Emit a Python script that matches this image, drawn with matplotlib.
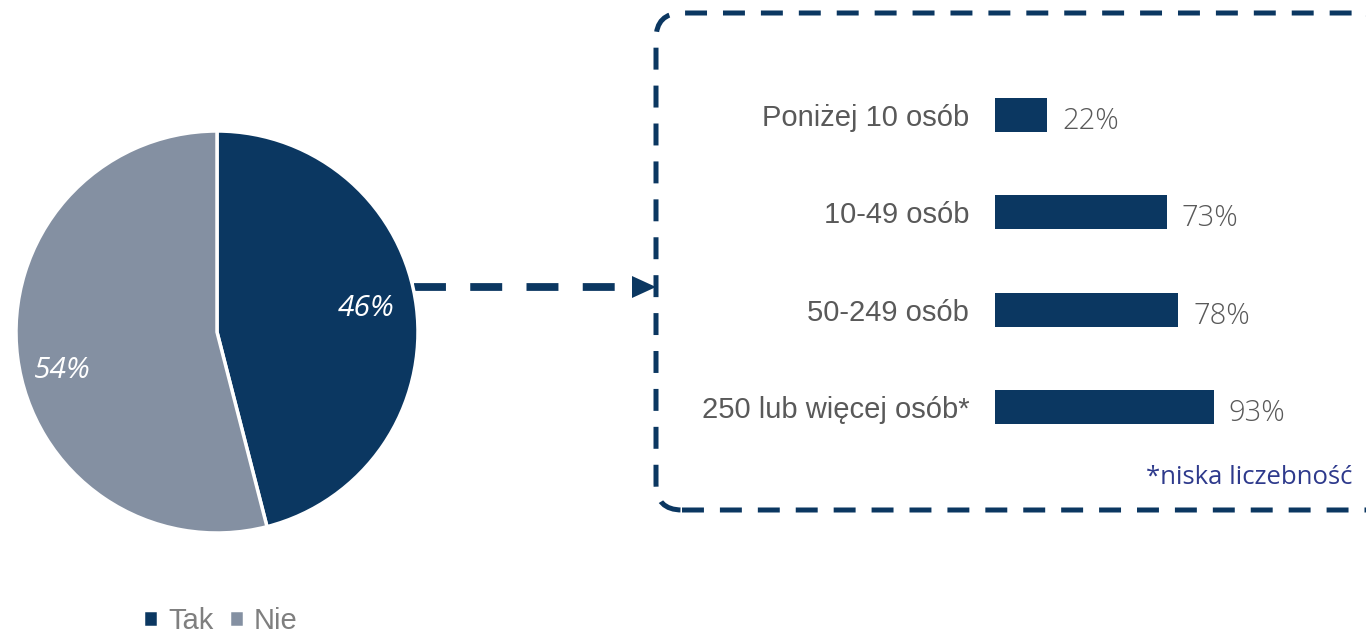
import matplotlib
matplotlib.use("Agg")
import matplotlib.pyplot as plt
from matplotlib.patches import FancyBboxPatch, Polygon

# Share of firms (pie) and breakdown by company size (bars)
pie_labels = ["Tak", "Nie"]
pie_values = [46, 54]

size_groups = ["Poniżej 10 osób", "10-49 osób", "50-249 osób", "250 lub więcej osób*"]
size_values = [22, 73, 78, 93]

footnote = "*niska liczebność"

NAVY = "#0B3761"
GREY = "#8490A2"
TEXT_GREY = "#595959"
LEGEND_GREY = "#7F7F7F"
NOTE_BLUE = "#2E3A8C"

W, H = 1366, 634
plt.rcParams["lines.scale_dashes"] = False

fig = plt.figure(figsize=(W / 100, H / 100), dpi=100)
fig.patch.set_facecolor("white")


def px_axes(left, top, width, height):
    """Axes placed by pixel box (origin top-left)."""
    return fig.add_axes([left / W, 1 - (top + height) / H, width / W, height / H])


# Overlay in pixel coordinates (y up) for the dashed callout and arrow
deco = px_axes(0, 0, W, H)
deco.set_xlim(0, W)
deco.set_ylim(0, H)
deco.axis("off")

box = FancyBboxPatch(
    (656, H - 510), 1391 - 656, 510 - 13,
    boxstyle="round,pad=0,rounding_size=26",
    facecolor="none", edgecolor=NAVY, linewidth=3.6,
    linestyle=(0, (15.8, 11.5)),
)
deco.add_patch(box)

deco.plot([414, 630], [H - 287, H - 287], color=NAVY, linewidth=5.6,
          linestyle=(0, (23.0, 17.5)), solid_capstyle="butt")
deco.add_patch(Polygon([[632, H - 276], [632, H - 298], [656, H - 287]],
                       closed=True, facecolor=NAVY, edgecolor="none"))

# Pie chart
pie_ax = px_axes(16, 131, 402, 402)
wedges, _, autotexts = pie_ax.pie(
    pie_values, colors=[NAVY, GREY], startangle=90, counterclock=False,
    autopct="%.0f%%", pctdistance=0.77,
    wedgeprops=dict(edgecolor="white", linewidth=2.5),
    textprops=dict(color="white", fontsize=21.5, fontstyle="italic",
                   family="Open Sans"),
)
autotexts[0].set_position((0.74, 0.115))
autotexts[1].set_position((-0.77, -0.19))
pie_ax.set_xlim(-1, 1)
pie_ax.set_ylim(-1, 1)
pie_ax.set_aspect("equal")

# Legend under the pie
fig.legend(
    wedges, pie_labels, loc="center left",
    bbox_to_anchor=(117 / W, 1 - 621 / H), ncol=2, frameon=False,
    handlelength=0.5, handleheight=0.5, handletextpad=0.35, columnspacing=0.55,
    prop=dict(family="Liberation Sans", size=21), labelcolor=LEGEND_GREY,
)

# Bar chart by company size
step = 97.3
bar_ax = px_axes(995, 115 - step / 2, 235, step * 4)
ypos = range(len(size_groups))
bar_ax.barh(ypos, size_values, height=0.35, color=NAVY)
bar_ax.set_xlim(0, 100)
bar_ax.set_ylim(3.5, -0.5)
bar_ax.axis("off")

for y, (name, v) in enumerate(zip(size_groups, size_values)):
    bar_ax.text(-0.11, y, name, transform=bar_ax.get_yaxis_transform(),
                ha="right", va="center_baseline", color=TEXT_GREY,
                fontsize=21, family="Liberation Sans")
    bar_ax.text(v + 6.5, y + 0.03, f"{v}%", ha="left", va="center_baseline",
                color=TEXT_GREY, fontsize=21, family="Open Sans",
                fontweight="light")

fig.text(1352 / W, 1 - 478 / H, footnote, ha="right", va="center",
         color=NOTE_BLUE, fontsize=18.5, family="Open Sans")

fig.savefig("out.png", dpi=100, facecolor="white")
